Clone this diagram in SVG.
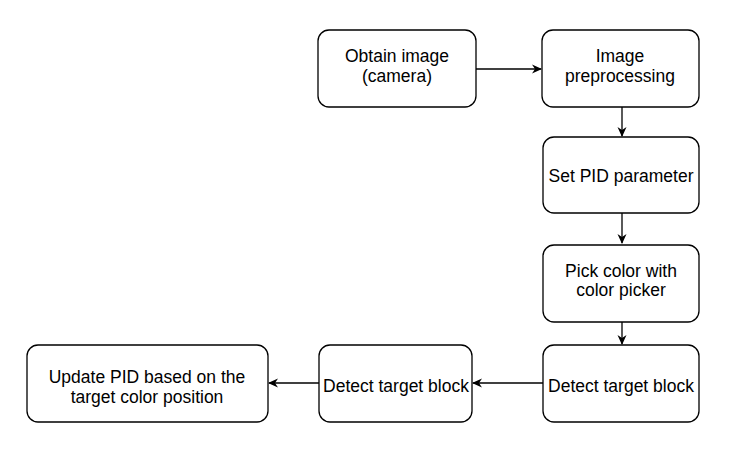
<svg xmlns="http://www.w3.org/2000/svg" width="737" height="453" viewBox="0 0 737 453">
<style>
.box{fill:#fff;stroke:#000;stroke-width:1.3}
.t{font-family:"Liberation Sans",Arial,sans-serif;font-size:17.5px;fill:#000;text-anchor:middle}
.c{fill:none;stroke:#000;stroke-width:1.3}
</style>
<defs>
<marker id="a" viewBox="0 0 10 10" refX="9" refY="5" markerWidth="10" markerHeight="10" markerUnits="userSpaceOnUse" orient="auto">
<path d="M0,0.5 L10,5 L0,9.5 L3,5 Z" fill="#000"/>
</marker>
</defs>
<rect width="737" height="453" fill="#fff"/>
<g id="connectors">
<line class="c" x1="476" y1="69" x2="541" y2="69" marker-end="url(#a)"/>
<line class="c" x1="622" y1="107" x2="622" y2="136" marker-end="url(#a)"/>
<line class="c" x1="622" y1="213" x2="622" y2="243" marker-end="url(#a)"/>
<line class="c" x1="622" y1="322" x2="622" y2="344" marker-end="url(#a)"/>
<line class="c" x1="543" y1="383" x2="473" y2="383" marker-end="url(#a)"/>
<line class="c" x1="319" y1="383" x2="269" y2="383" marker-end="url(#a)"/>
</g>
<g id="n1"><rect class="box" x="318" y="30" width="158" height="77" rx="11"/>
<text class="t" x="397" y="62">Obtain image</text><text class="t" x="397" y="82">(camera)</text></g>
<g id="n2"><rect class="box" x="542" y="30" width="157" height="77" rx="11"/>
<text class="t" x="620" y="62">Image</text><text class="t" x="620" y="82">preprocessing</text></g>
<g id="n3"><rect class="box" x="543" y="137" width="156" height="76" rx="11"/>
<text class="t" x="621" y="182">Set PID parameter</text></g>
<g id="n4"><rect class="box" x="543" y="245" width="156" height="77" rx="11"/>
<text class="t" x="621" y="277">Pick color with</text><text class="t" x="621" y="296">color picker</text></g>
<g id="n5"><rect class="box" x="543" y="345" width="156" height="77" rx="11"/>
<text class="t" x="621" y="392">Detect target block</text></g>
<g id="n6"><rect class="box" x="319" y="345" width="153" height="77" rx="11"/>
<text class="t" x="396" y="392">Detect target block</text></g>
<g id="n7"><rect class="box" x="27" y="345" width="241" height="77" rx="11"/>
<text class="t" x="147" y="383">Update PID based on the</text><text class="t" x="147" y="403">target color position</text></g>
</svg>
